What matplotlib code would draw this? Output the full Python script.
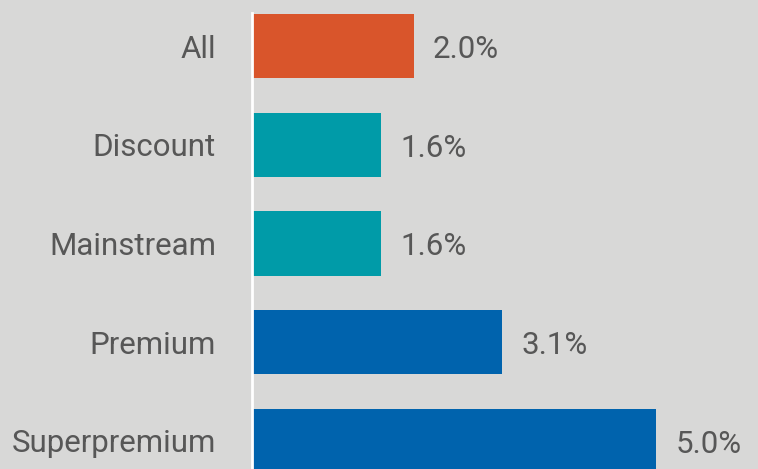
import matplotlib.pyplot as plt

categories = ["All", "Discount", "Mainstream", "Premium", "Superpremium"]
values = [2.0, 1.6, 1.6, 3.1, 5.0]
labels = ["2.0%", "1.6%", "1.6%", "3.1%", "5.0%"]
colors = ["#d9552b", "#009ba8", "#009ba8", "#0063ad", "#0063ad"]

BG = "#d8d8d7"
TEXT = "#575757"

plt.rcParams['font.family'] = ['Roboto', 'DejaVu Sans']

fig = plt.figure(figsize=(7.58, 4.69), dpi=100, facecolor=BG)
ax = fig.add_axes([252 / 758, 0, 506 / 758, 1])
ax.set_facecolor(BG)

y = range(len(categories))
ax.barh(y, values, height=0.65, color=colors)

ax.set_ylim(4.284, -0.466)
ax.set_xlim(0, 506 / 80.8)

# value labels just right of each bar
for i, (v, lab) in enumerate(zip(values, labels)):
    ax.annotate(lab, (v, i), xytext=(14, -2.5), textcoords="offset points",
                ha="left", va="center", fontsize=22.5, color=TEXT)

ax.set_yticks(list(y))
ax.set_yticklabels(categories, fontsize=22.5, color=TEXT)
ax.tick_params(axis="y", length=0, pad=26)
ax.set_xticks([])
for s in ["top", "right", "bottom"]:
    ax.spines[s].set_visible(False)
ax.spines["left"].set_color("white")
ax.spines["left"].set_linewidth(2)
ax.spines["left"].set_bounds(-0.33, 4.284)

fig.savefig("out.png", dpi=100, facecolor=BG)
